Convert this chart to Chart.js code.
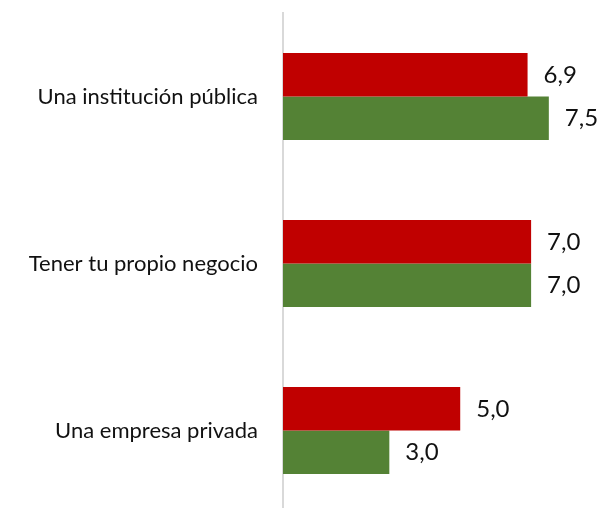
<!DOCTYPE html>
<html>
<head>
<meta charset="utf-8">
<script src="https://cdn.jsdelivr.net/npm/chart.js@4"></script>
<style>
    html, body { margin: 0; padding: 0; background: #ffffff; overflow: hidden; }
    canvas { display: block; }
</style>
</head>
<body>
<canvas id="bar-chart" width="604" height="520"></canvas>
<script>
// Categories and values for each series
const categories = ['Una institución pública', 'Tener tu propio negocio', 'Una empresa privada'];
const seriesRed = [6.9, 7.0, 5.0];
const seriesGreen = [7.5, 7.0, 3.0];

const FONT = 'Lato, "Open Sans", sans-serif';

// Writes each bar's value just past its end, with a decimal comma
const valueLabels = {
    id: 'valueLabels',
    afterDatasetsDraw(chart) {
        const ctx = chart.ctx;
        ctx.save();
        ctx.font = '24px ' + FONT;
        ctx.fillStyle = '#111111';
        ctx.textAlign = 'left';
        ctx.textBaseline = 'middle';
        chart.data.datasets.forEach((ds, i) => {
            chart.getDatasetMeta(i).data.forEach((bar, j) => {
                const text = ds.data[j].toFixed(1).replace('.', ',');
                ctx.fillText(text, bar.x + 16, bar.y);
            });
        });
        ctx.restore();
    }
};

const ctx = document.getElementById('bar-chart').getContext('2d');
new Chart(ctx, {
    type: 'bar',
    data: {
        labels: categories,
        datasets: [
            {
                label: 'Serie 1',
                data: seriesRed,
                backgroundColor: '#C00000',
                borderWidth: 0
            },
            {
                label: 'Serie 2',
                data: seriesGreen,
                backgroundColor: '#548235',
                borderWidth: 0
            }
        ]
    },
    options: {
        responsive: false,
        indexAxis: 'y',
        animation: false,
        layout: {
            padding: { top: 13, bottom: 6, left: 0, right: 2 }
        },
        datasets: {
            bar: {
                barPercentage: 1,
                categoryPercentage: 0.52
            }
        },
        plugins: {
            legend: { display: false },
            tooltip: { enabled: false }
        },
        scales: {
            x: {
                display: false,
                min: 0,
                max: 9
            },
            y: {
                afterFit: function(scale) {
                    scale.width = 283;
                    // no extra room above/below for the tick labels
                    scale.paddingTop = 0;
                    scale.paddingBottom = 0;
                },
                grid: { display: false, drawTicks: false },
                border: { display: true, color: '#d9d9d9', width: 2 },
                ticks: {
                    padding: 25,
                    color: '#111111',
                    font: { family: FONT, size: 22 }
                }
            }
        }
    },
    plugins: [valueLabels]
});
</script>
</body>
</html>
